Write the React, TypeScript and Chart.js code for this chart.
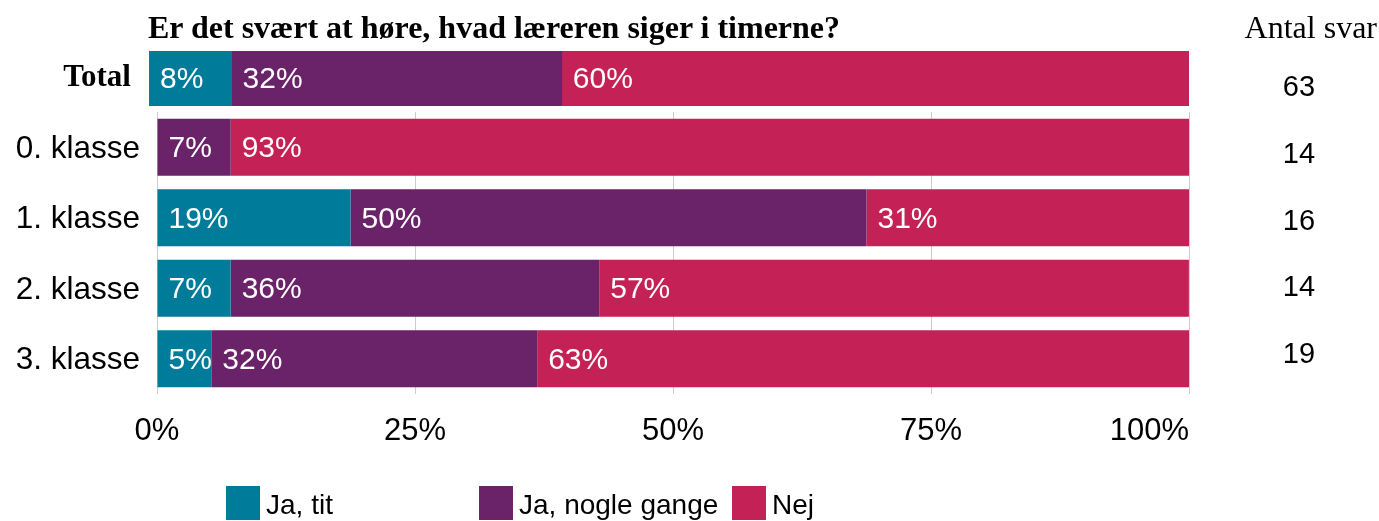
import React, { useEffect, useRef } from "react";
import { Chart, registerables } from "chart.js";

Chart.register(...registerables);

// ---- data ----
const chartTitle = "Er det svært at høre, hvad læreren siger i timerne?";
const countHeader = "Antal svar";
const totalLabel = "Total";
const classLabels = ["0. klasse", "1. klasse", "2. klasse", "3. klasse"];
const seriesNames = ["Ja, tit", "Ja, nogle gange", "Nej"];
const seriesColors = ["#007B9A", "#6A2269", "#C42157"];

// percentages per series (Total row)
const totalJaTit = [7.94];
const totalJaNogleGange = [31.75];
const totalNej = [60.31];

// percentages per series (class rows)
const classJaTit = [0, 18.75, 7.14, 5.26];
const classJaNogleGange = [7.14, 50.0, 35.71, 31.58];
const classNej = [92.86, 31.25, 57.14, 63.16];

// number of answers: Total, 0., 1., 2., 3. klasse
const antalSvar = [63, 14, 16, 14, 19];

const xTickStep = 25;

const SANS = "'Liberation Sans', Arial, sans-serif";
const SERIF = "'Liberation Serif', 'Times New Roman', serif";

const barLabelPlugin = {
  id: "barLabels",
  afterDatasetsDraw(chart: any) {
    const ctx = chart.ctx;
    ctx.save();
    ctx.font = `30px ${SANS}`;
    ctx.fillStyle = "#ffffff";
    ctx.textAlign = "left";
    ctx.textBaseline = "middle";
    chart.data.datasets.forEach((ds: any, i: number) => {
      const meta = chart.getDatasetMeta(i);
      meta.data.forEach((el: any, j: number) => {
        const v = ds.data[j];
        if (!v) return;
        const p = el.getProps(["x", "y", "base"], true);
        const left = Math.min(p.x, p.base);
        ctx.fillText(Math.round(v) + "%", left + 11, p.y + 1.5);
      });
    });
    ctx.restore();
  },
};

// draws the tick labels of both scales: x centred (last right-aligned), y right-aligned
const tickLabelPlugin = {
  id: "tickLabels",
  afterDraw(chart: any) {
    const ctx = chart.ctx;
    ctx.save();
    ctx.fillStyle = "#000000";
    const xs = chart.scales.x;
    if (xs) {
      ctx.font = `31px ${SANS}`;
      ctx.textBaseline = "alphabetic";
      const n = xs.ticks.length;
      xs.ticks.forEach((t: any, i: number) => {
        const px = xs.getPixelForValue(t.value);
        ctx.textAlign = i === n - 1 ? "right" : "center";
        ctx.fillText(t.value + "%", px, chart.chartArea.bottom + 46);
      });
    }
    const ys = chart.scales.y;
    if (ys) {
      ctx.font = `31.5px ${SANS}`;
      ctx.textBaseline = "middle";
      ctx.textAlign = "right";
      ys.ticks.forEach((t: any, i: number) => {
        const py = ys.getPixelForTick(i);
        ctx.fillText(ys.getLabelForValue(t.value), chart.chartArea.left - 17, py + 2);
      });
    }
    ctx.restore();
  },
};

function makeDatasets(series: number[][], barPercentage: number) {
  return seriesNames.map((name, i) => ({
    label: name,
    data: series[i],
    backgroundColor: seriesColors[i],
    borderWidth: 0,
    barPercentage,
    categoryPercentage: 1,
  }));
}

export default function App() {
  const mainRef = useRef<HTMLCanvasElement>(null);
  const totalRef = useRef<HTMLCanvasElement>(null);

  useEffect(() => {
    const main = new Chart(mainRef.current as HTMLCanvasElement, {
      type: "bar",
      data: {
        labels: classLabels,
        datasets: makeDatasets([classJaTit, classJaNogleGange, classNej], 0.81) as any,
      },
      options: {
        indexAxis: "y",
        responsive: false,
        animation: false,
        layout: { padding: { top: 112, right: 190, left: 0, bottom: 0 } },
        plugins: {
          legend: { display: false },
          tooltip: { enabled: false },
          title: { display: false },
        },
        scales: {
          x: {
            stacked: true,
            min: 0,
            max: 100,
            position: "bottom",
            ticks: {
              display: false,
              stepSize: xTickStep,
              autoSkip: false,
            },
            grid: { color: "#CCCCCC", drawTicks: false, lineWidth: 1 },
            border: { display: false },
            afterFit: (s: any) => {
              s.height = 127;
            },
          },
          y: {
            stacked: true,
            ticks: { display: false, autoSkip: false },
            grid: { display: false, drawTicks: false },
            border: { display: false },
            afterFit: (s: any) => {
              s.width = 157;
            },
          },
        },
      } as any,
      plugins: [barLabelPlugin, tickLabelPlugin],
    });

    const total = new Chart(totalRef.current as HTMLCanvasElement, {
      type: "bar",
      data: {
        labels: [totalLabel],
        datasets: makeDatasets([totalJaTit, totalJaNogleGange, totalNej], 1) as any,
      },
      options: {
        indexAxis: "y",
        responsive: false,
        animation: false,
        layout: { padding: 0 },
        plugins: {
          legend: { display: false },
          tooltip: { enabled: false },
        },
        scales: {
          x: { stacked: true, min: 0, max: 100, display: false },
          y: { stacked: true, display: false },
        },
      } as any,
      plugins: [barLabelPlugin],
    });

    return () => {
      main.destroy();
      total.destroy();
    };
  }, []);

  return (
    <div
      style={{
        position: "absolute",
        left: 0,
        top: 0,
        width: 1379,
        height: 521,
        background: "#ffffff",
        overflow: "hidden",
      }}
    >
      <canvas
        ref={mainRef}
        width={1379}
        height={521}
        style={{ position: "absolute", left: 0, top: 0 }}
      />
      <canvas
        ref={totalRef}
        width={1040}
        height={55}
        style={{ position: "absolute", left: 149, top: 51 }}
      />
      <div
        style={{
          position: "absolute",
          left: 148,
          top: 11,
          font: `bold 32px ${SERIF}`,
          lineHeight: "32px",
          whiteSpace: "nowrap",
          color: "#000",
        }}
      >
        {chartTitle}
      </div>
      <div
        style={{
          position: "absolute",
          right: 2,
          top: 11,
          font: `32px ${SERIF}`,
          lineHeight: "32px",
          whiteSpace: "nowrap",
          color: "#000",
        }}
      >
        {countHeader}
      </div>
      <div
        style={{
          position: "absolute",
          right: 1379 - 131,
          top: 60,
          font: `bold 31px ${SERIF}`,
          lineHeight: "31px",
          whiteSpace: "nowrap",
          color: "#000",
        }}
      >
        {totalLabel}
      </div>
      {antalSvar.map((n, i) => (
        <div
          key={i}
          style={{
            position: "absolute",
            left: 1249,
            width: 100,
            textAlign: "center",
            top: 72 + i * 66.75,
            font: `29px ${SANS}`,
            lineHeight: "28px",
            color: "#000",
          }}
        >
          {n}
        </div>
      ))}
      {seriesNames.map((name, i) => (
        <div
          key={name}
          style={{ position: "absolute", left: 226 + i * 253, top: 486, height: 34 }}
        >
          <div
            style={{
              position: "absolute",
              left: 0,
              top: 0,
              width: 34,
              height: 34,
              background: seriesColors[i],
            }}
          />
          <div
            style={{
              position: "absolute",
              left: 40,
              top: 2,
              font: `28px ${SANS}`,
              lineHeight: "34px",
              whiteSpace: "nowrap",
              color: "#000",
            }}
          >
            {name}
          </div>
        </div>
      ))}
    </div>
  );
}
